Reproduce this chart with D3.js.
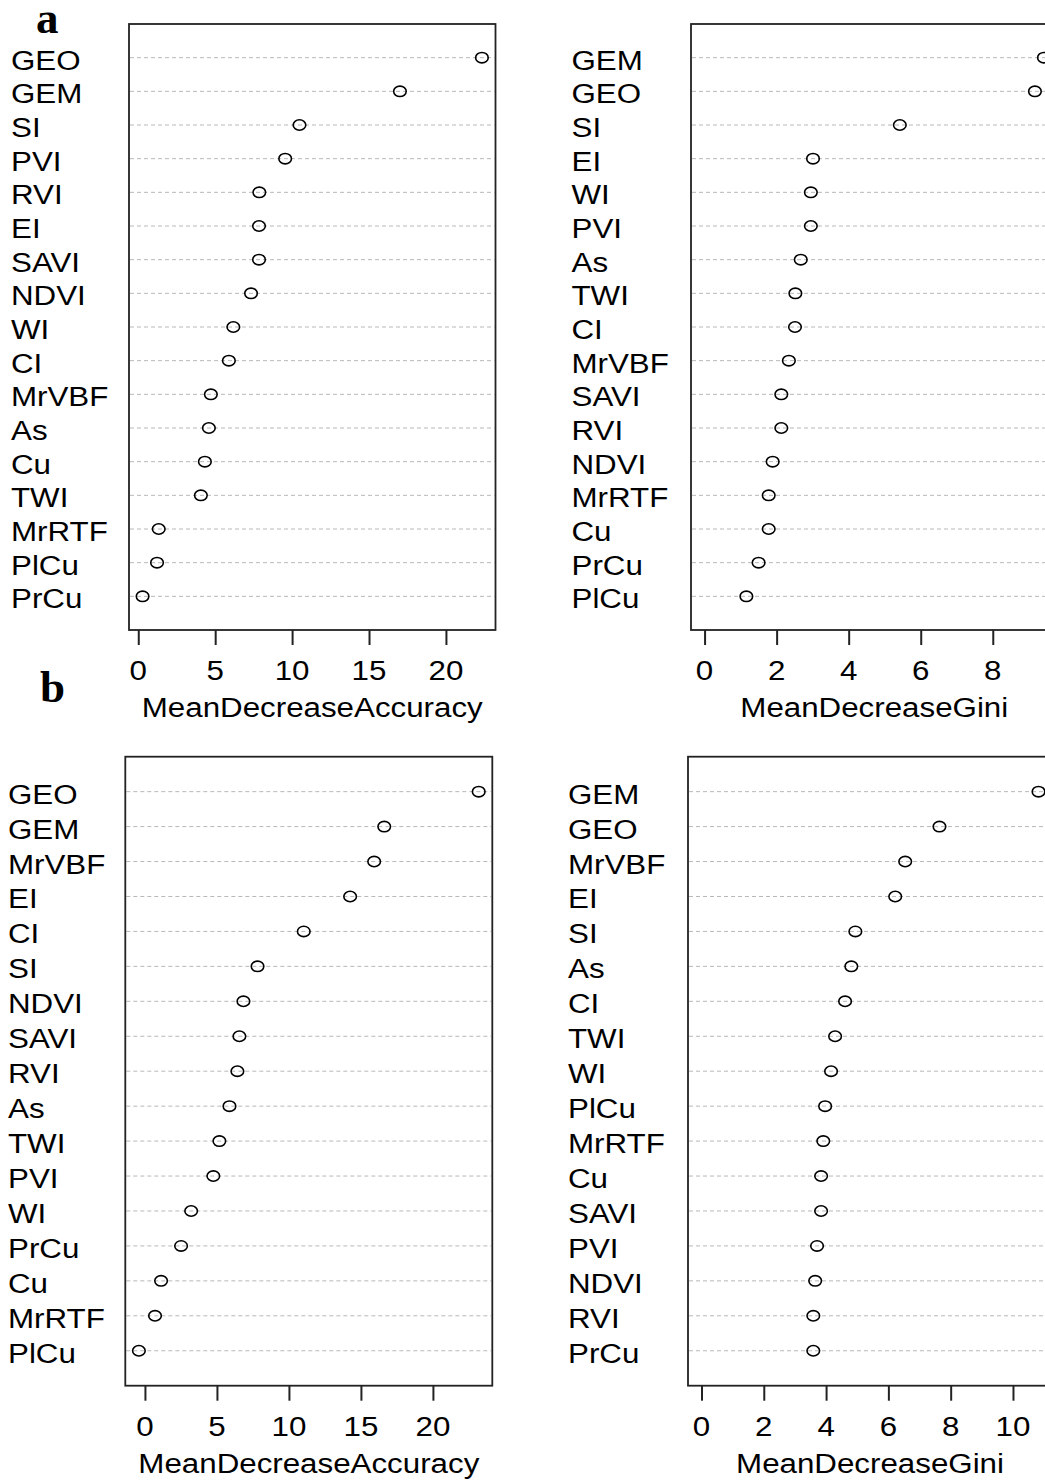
<!DOCTYPE html>
<html>
<head>
<meta charset="utf-8">
<script src="https://cdn.jsdelivr.net/npm/d3@7"></script>
<style>
  html, body { margin: 0; padding: 0; background: #fff; }
  svg { display: block; }
</style>
</head>
<body>
<svg id="chart" width="1045" height="1484"></svg>
<script>
// ---- data ----
const aAccLabels = ["GEO","GEM","SI","PVI","RVI","EI","SAVI","NDVI","WI","CI","MrVBF","As","Cu","TWI","MrRTF","PlCu","PrCu"];
const aAccValues = [22.34,17.01,10.48,9.55,7.87,7.85,7.85,7.33,6.18,5.89,4.72,4.59,4.33,4.07,1.33,1.22,0.28];

const aGiniLabels = ["GEM","GEO","SI","EI","WI","PVI","As","TWI","CI","MrVBF","SAVI","RVI","NDVI","MrRTF","Cu","PrCu","PlCu"];
const aGiniValues = [9.42,9.17,5.42,3.01,2.95,2.95,2.67,2.52,2.51,2.34,2.13,2.13,1.89,1.78,1.78,1.50,1.16];

const bAccLabels = ["GEO","GEM","MrVBF","EI","CI","SI","NDVI","SAVI","RVI","As","TWI","PVI","WI","PrCu","Cu","MrRTF","PlCu"];
const bAccValues = [23.18,16.62,15.92,14.25,11.03,7.82,6.84,6.56,6.42,5.87,5.17,4.75,3.21,2.51,1.12,0.70,-0.42];

const bGiniLabels = ["GEM","GEO","MrVBF","EI","SI","As","CI","TWI","WI","PlCu","MrRTF","Cu","SAVI","PVI","NDVI","RVI","PrCu"];
const bGiniValues = [10.82,7.64,6.54,6.22,4.94,4.81,4.61,4.29,4.16,3.97,3.91,3.84,3.84,3.71,3.65,3.59,3.59];

const accTicks = [0,5,10,15,20];
const giniTicksA = [0,2,4,6,8];
const giniTicksB = [0,2,4,6,8,10];

const titleAcc = "MeanDecreaseAccuracy";
const titleGini = "MeanDecreaseGini";
const panelLetters = ["a","b"];

// ---- layout ----
const svg = d3.select("#chart");
const FONT = "'Liberation Sans', Arial, sans-serif";
const FS = 27, SX = 1.16;

const panels = [
  {labels:aAccLabels, values:aAccValues, ticks:accTicks, title:titleAcc, gini:false,
   left:129, right:495.5, top:24, bottom:630, labelX:11},
  {labels:aGiniLabels, values:aGiniValues, ticks:giniTicksA, title:titleGini, gini:true,
   left:691, right:1057.5, top:24, bottom:630, labelX:571.5},
  {labels:bAccLabels, values:bAccValues, ticks:accTicks, title:titleAcc, gini:false,
   left:125.3, right:492.3, top:756.7, bottom:1385.7, labelX:8},
  {labels:bGiniLabels, values:bGiniValues, ticks:giniTicksB, title:titleGini, gini:true,
   left:688, right:1052, top:756.7, bottom:1385.7, labelX:568}
];

function stretchedText(g, x, y, txt, anchor) {
  return g.append("text")
    .attr("transform", `translate(${x},${y}) scale(${SX},1)`)
    .attr("text-anchor", anchor)
    .attr("font-family", FONT)
    .attr("font-size", FS)
    .attr("fill", "#000")
    .text(txt);
}

panels.forEach(p => {
  const g = svg.append("g");
  const vmin = p.gini ? 0 : d3.min(p.values);
  const vmax = d3.max(p.values);
  const r = vmax - vmin;
  const x = d3.scaleLinear().domain([vmin - 0.04*r, vmax + 0.04*r]).range([p.left, p.right]);
  const y = d3.scalePoint().domain(p.labels).range([p.top, p.bottom]).padding(1);

  // dotted grid lines
  g.selectAll("line.grid").data(p.labels).join("line")
    .attr("class","grid")
    .attr("x1", p.left + 1).attr("x2", p.right - 1)
    .attr("y1", d => y(d)).attr("y2", d => y(d))
    .attr("stroke", "#b8b8b8").attr("stroke-width", 1)
    .attr("stroke-dasharray", "4,3");

  // points
  g.selectAll("ellipse.pt").data(p.values).join("ellipse")
    .attr("class","pt")
    .attr("cx", d => x(d))
    .attr("cy", (d,i) => y(p.labels[i]))
    .attr("rx", 6.3).attr("ry", 5.2)
    .attr("fill", "none").attr("stroke", "#000").attr("stroke-width", 1.6);

  // box
  g.append("rect")
    .attr("x", p.left).attr("y", p.top)
    .attr("width", p.right - p.left).attr("height", p.bottom - p.top)
    .attr("fill", "none").attr("stroke", "#222").attr("stroke-width", 1.8);

  // x axis ticks
  const axis = d3.axisBottom(x).tickValues(p.ticks).tickSize(15).tickPadding(0).tickFormat(() => "");
  const ax = g.append("g").attr("transform", `translate(0,${p.bottom})`).call(axis);
  ax.select(".domain").remove();
  ax.selectAll(".tick line").attr("stroke", "#222").attr("stroke-width", 2);

  // tick labels
  p.ticks.forEach(t => {
    stretchedText(g, x(t), p.bottom + 50, String(t), "middle");
  });

  // axis title
  stretchedText(g, (p.left + p.right) / 2, p.bottom + 87, p.title, "middle");

  // row labels
  p.labels.forEach(l => {
    stretchedText(g, p.labelX, y(l) + 12, l, "start");
  });
});

// panel letters
svg.append("text").attr("x", 36).attr("y", 33.3)
  .attr("font-family", "'Liberation Serif', 'Times New Roman', serif")
  .attr("font-weight", "bold").attr("font-size", 45).text(panelLetters[0]);
svg.append("text").attr("x", 40).attr("y", 701.7)
  .attr("font-family", "'Liberation Serif', 'Times New Roman', serif")
  .attr("font-weight", "bold").attr("font-size", 45).text(panelLetters[1]);
</script>
</body>
</html>
